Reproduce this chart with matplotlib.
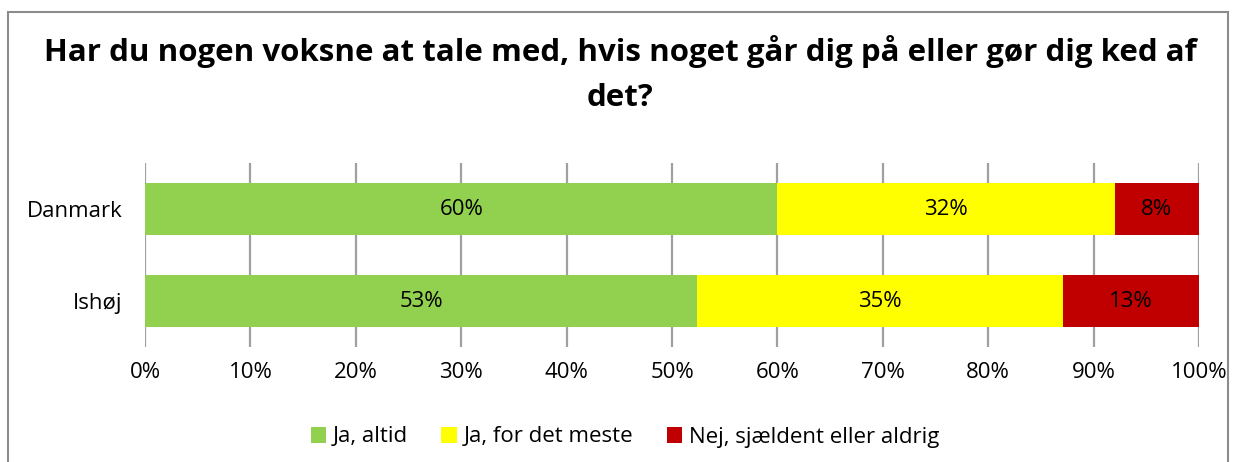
import numpy as np
import matplotlib.pyplot as plt
from matplotlib.patches import Rectangle

plt.rcParams['font.family'] = ['Open Sans', 'DejaVu Sans']

categories = ['Danmark', 'Ishøj']
altid = [60.0, 52.4]
meste = [32.0, 34.7]
aldrig = [8.0, 12.9]
labels_altid = ['60%', '53%']
labels_meste = ['32%', '35%']
labels_aldrig = ['8%', '13%']
series_names = ['Ja, altid', 'Ja, for det meste', 'Nej, sjældent eller aldrig']
colors = ['#92D050', '#FFFF00', '#C00000']

W, H = 1233, 462
fig = plt.figure(figsize=(W / 100, H / 100), dpi=100)

# outer chart border
fig.patches.append(Rectangle((8 / W, -0.05), 1220 / W, 1.05 - 12 / H,
                             transform=fig.transFigure, fill=False,
                             edgecolor='#8C8C8C', linewidth=1.5))

ax = fig.add_axes([145 / W, 1 - 347 / H, 1054 / W, 184 / H])

y = np.arange(len(categories))
left = np.zeros(len(categories))
for vals, labs, name, col in zip([altid, meste, aldrig],
                                 [labels_altid, labels_meste, labels_aldrig],
                                 series_names, colors):
    bars = ax.barh(y, vals, left=left, height=0.576, color=col, label=name, zorder=3)
    ax.bar_label(bars, labels=labs, label_type='center', fontsize=16, color='black')
    left += np.array(vals)

ax.set_xlim(0, 100)
ax.set_ylim(1.5, -0.5)
ax.set_xticks(np.arange(0, 101, 10))
ax.set_xticklabels([f'{v}%' for v in range(0, 101, 10)], fontsize=16)
ax.set_yticks(y)
ax.set_yticklabels(categories, fontsize=16)
ax.tick_params(axis='x', length=0, pad=11)
ax.tick_params(axis='y', length=0, pad=16)
ax.xaxis.grid(True, color='#A0A0A0', linewidth=1.6, zorder=0)
for s in ax.spines.values():
    s.set_visible(False)

fig.text(0.503, 1 - 74 / H,
         'Har du nogen voksne at tale med, hvis noget går dig på eller gør dig ked af\ndet?',
         ha='center', va='center', fontsize=22.5, fontweight='bold', linespacing=1.62)

fig.legend(loc='center', bbox_to_anchor=(625 / W, 1 - 437 / H), ncol=3, frameon=False,
           fontsize=16, handlelength=0.7, handleheight=0.7, handletextpad=0.3,
           columnspacing=1.5)

fig.savefig('out.png', dpi=100)
